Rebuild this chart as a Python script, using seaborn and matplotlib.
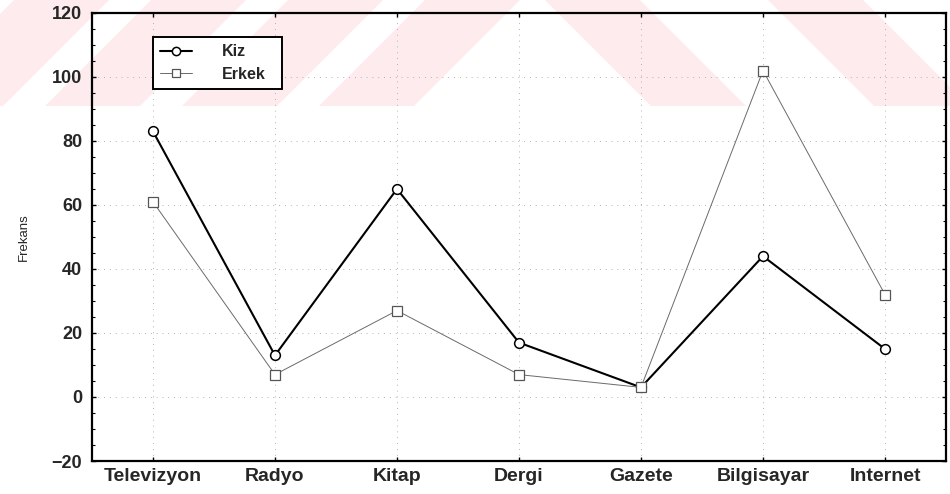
import matplotlib
matplotlib.use("Agg")
import matplotlib.pyplot as plt
import matplotlib.patches as mpatches
from matplotlib.ticker import MultipleLocator
import seaborn as sns

categories = ['Televizyon', 'Radyo', 'Kitap', 'Dergi', 'Gazete', 'Bilgisayar', 'Internet']
kiz = [83, 13, 65, 17, 3, 44, 15]
erkek = [61, 7, 27, 7, 3, 102, 32]
y_ticks = [-20, 0, 20, 40, 60, 80, 100, 120]


def watermark(fig):
    # faint pink stripes of the scanned page (pixel coords, y down)
    W, H = 950, 494
    band = 106
    pink = '#fdebee'

    def poly(pts):
        return mpatches.Polygon([(x / W, 1 - y / H) for x, y in pts],
                                closed=True, transform=fig.transFigure,
                                facecolor=pink, edgecolor='none', zorder=-5)

    for b in [-92, 45, 182, 319]:
        fig.patches.append(poly([(b, band), (b + 95, band), (b + 95 + band, 0), (b + band, 0)]))
    for t in [545, 768]:
        fig.patches.append(poly([(t, 0), (t + 95, 0), (t + 95 + band, band), (t + band, band)]))


def main():
    sns.set_style('white')
    plt.rcParams['font.family'] = ['Liberation Sans', 'DejaVu Sans']

    fig = plt.figure(figsize=(9.5, 4.94), dpi=100)
    watermark(fig)
    ax = fig.add_axes([0.0968, 0.0668, 0.899, 0.907])
    ax.set_zorder(1)
    ax.patch.set_alpha(0)

    sns.lineplot(x=categories, y=kiz, sort=False, ax=ax, color='black', linewidth=1.5,
                 marker='o', markersize=7, markerfacecolor='white', markeredgecolor='black',
                 markeredgewidth=1.1, label='Kiz')
    sns.lineplot(x=categories, y=erkek, sort=False, ax=ax, color='#6a6a6a', linewidth=0.7,
                 marker='s', markersize=6.5, markerfacecolor='white', markeredgecolor='#555555',
                 markeredgewidth=0.9, label='Erkek')

    ax.set_xlim(-0.5, len(categories) - 0.5)
    ax.set_ylim(-20, 120)
    ax.set_yticks(y_ticks)
    ax.yaxis.set_minor_locator(MultipleLocator(5))
    ax.grid(True, color='#9a9a9a', linestyle=(0, (1, 6)), linewidth=0.6)
    ax.set_axisbelow(True)

    ax.tick_params(axis='both', which='both', direction='in', top=True, right=True,
                   left=True, bottom=True, color='black')
    ax.tick_params(axis='both', which='major', length=3, width=1)
    ax.tick_params(axis='y', which='minor', length=2, width=0.8)
    ax.tick_params(axis='x', labelsize=14, pad=5)
    ax.tick_params(axis='y', labelsize=13, pad=7)
    for lab in ax.get_xticklabels() + ax.get_yticklabels():
        lab.set_fontweight('bold')

    for sp in ax.spines.values():
        sp.set_color('black')
        sp.set_linewidth(1.6)

    ax.set_xlabel('')
    ax.set_ylabel('Frekans', fontsize=9.5, labelpad=16)

    leg = ax.legend(loc='upper left', bbox_to_anchor=(0.0713, 0.70, 0.151, 0.246),
                    mode='expand', borderaxespad=0, frameon=True,
                    fancybox=False, framealpha=1, edgecolor='black', handlelength=2.0,
                    borderpad=0.45, labelspacing=0.45, handletextpad=1.9,
                    markerscale=0.85, prop={'weight': 'bold', 'size': 11.5})
    leg.get_frame().set_linewidth(1.4)

    fig.savefig('out.png', dpi=100)


if __name__ == "__main__":
    main()
